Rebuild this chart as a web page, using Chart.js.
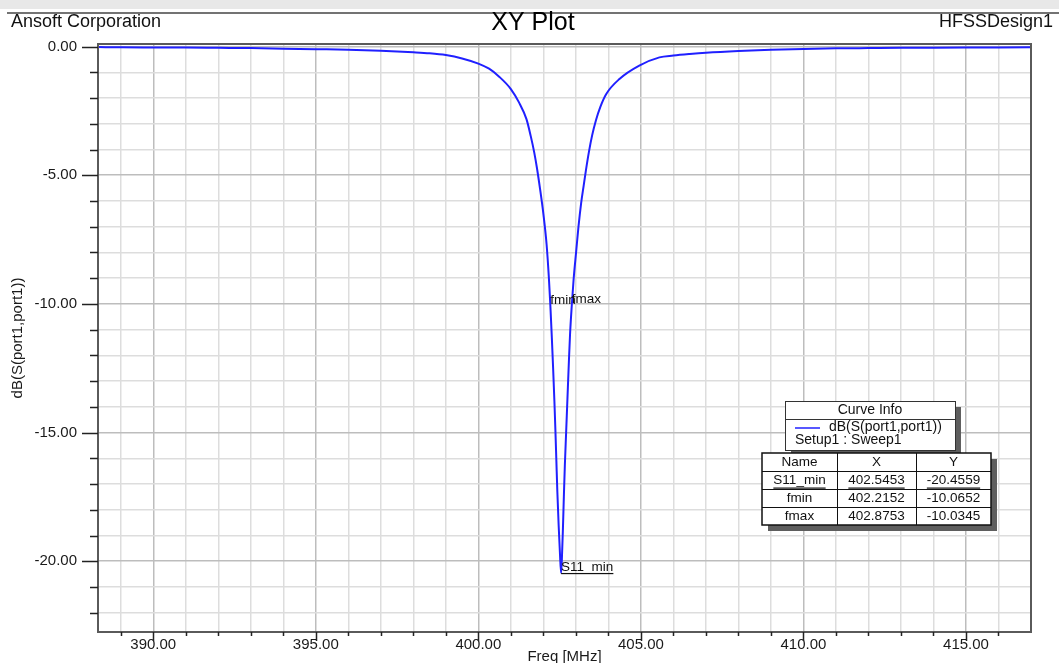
<!DOCTYPE html>
<html>
<head>
<meta charset="utf-8">
<title>XY Plot</title>
<script src="https://cdn.jsdelivr.net/npm/chart.js@4.4.1/dist/chart.umd.min.js"></script>
<style>
  html, body { margin: 0; padding: 0; background: #fff; }
  #wrap { width: 1059px; height: 663px; position: relative; }
</style>
</head>
<body>
<div id="wrap"><canvas id="xyPlot"></canvas></div>
<script>
// Sweep points, Setup1 : Sweep1  (MHz, dB)
const freq = [
    388.3, 389.0, 390.0, 391.0, 392.0, 393.0, 394.0, 395.0, 396.0, 397.0,
    398.0, 398.5, 399.0, 399.5, 400.0, 400.33, 400.64, 401.0, 401.25, 401.48,
    401.61, 401.72, 401.80, 401.90, 402.00, 402.10, 402.17, 402.2152, 402.26, 402.30,
    402.34, 402.37, 402.40, 402.43, 402.47, 402.51, 402.5453, 402.57, 402.60, 402.63,
    402.66, 402.70, 402.74, 402.78, 402.82, 402.8753, 402.93, 403.01, 403.08, 403.16,
    403.24, 403.31, 403.40, 403.50, 403.62, 403.75, 403.93, 404.34, 404.95, 405.57,
    406.0, 406.5, 407.0, 408.0, 409.0, 410.0, 411.0, 412.0, 413.0, 414.0,
    415.0, 416.0, 417.0
];
const s11 = [
    -0.02, -0.03, -0.035, -0.04, -0.05, -0.06, -0.08, -0.10, -0.12, -0.16,
    -0.22, -0.26, -0.33, -0.46, -0.66, -0.86, -1.17, -1.65, -2.17, -2.82,
    -3.47, -4.12, -4.70, -5.55, -6.50, -7.70, -9.0, -10.0652, -11.3, -12.5,
    -13.8, -14.9, -16.1, -17.3, -18.6, -19.7, -20.4559, -19.9, -18.8, -17.5,
    -16.3, -15.0, -13.7, -12.4, -11.2, -10.0345, -9.05, -7.95, -7.00, -6.10,
    -5.40, -4.80, -4.10, -3.45, -2.85, -2.35, -1.85, -1.26, -0.74, -0.42,
    -0.35, -0.29, -0.24, -0.17, -0.12, -0.09, -0.07, -0.06, -0.05, -0.045,
    -0.04, -0.035, -0.03
];

// markers on the trace
const markerNames = ['S11_min', 'fmin', 'fmax'];
const markerX = [402.5453, 402.2152, 402.8753];
const markerY = [-20.4559, -10.0652, -10.0345];

// ticks that carry a label
const xLabelTicks = [390, 395, 400, 405, 410, 415];
const yLabelTicks = [0, -5, -10, -15, -20];

const X_MIN = 388.3, X_MAX = 417.0;
const Y_MIN = -22.75, Y_MAX = 0.1;

const FONT = '"Liberation Sans", Arial, sans-serif';
const TRACE = '#2020ff';

// one grid line per unit
function unitTicks(min, max) {
    const out = [];
    for (let v = Math.ceil(min); v <= Math.floor(max); v++) out.push({ value: v });
    return out;
}

function isMajor(v) {
    return Math.round(v) % 5 === 0;
}

function gridColor(ctx) {
    if (!ctx.tick) return '#dcdcdc';
    return isMajor(ctx.tick.value) ? '#bdbdbd' : '#dddddd';
}

function shadowBox(ctx, x, y, w, h) {
    ctx.fillStyle = '#5e5e5e';
    ctx.fillRect(x + 6, y + 6, w, h);
    ctx.fillStyle = '#ffffff';
    ctx.fillRect(x, y, w, h);
}

const hfssDecor = {
    id: 'hfssDecor',
    beforeDraw(chart) {
        const ctx = chart.ctx;
        ctx.save();
        ctx.fillStyle = '#ffffff';
        ctx.fillRect(0, 0, chart.width, chart.height);
        // window strip at the top
        ctx.fillStyle = '#e8e8e8';
        ctx.fillRect(0, 0, chart.width, 9);
        ctx.fillStyle = '#737373';
        ctx.fillRect(7, 12, chart.width - 7, 2);

        // header line: company, plot name, design
        ctx.fillStyle = '#111';
        ctx.textBaseline = 'middle';
        ctx.font = '18px ' + FONT;
        ctx.textAlign = 'left';
        ctx.fillText('Ansoft Corporation', 11, 22);
        ctx.textAlign = 'right';
        ctx.fillText('HFSSDesign1', 1053, 22);
        ctx.fillStyle = '#000';
        ctx.font = '25px ' + FONT;
        ctx.textAlign = 'center';
        ctx.fillText('XY Plot', 533, 23);
        ctx.restore();
    },
    afterDraw(chart) {
        const ctx = chart.ctx;
        const area = chart.chartArea;
        const xs = chart.scales.x;
        const ys = chart.scales.y;
        ctx.save();

        // plot frame
        ctx.strokeStyle = '#5a5a5a';
        ctx.lineWidth = 2;
        ctx.strokeRect(area.left, area.top, area.right - area.left, area.bottom - area.top);

        // tick marks, long on the labelled values
        ctx.strokeStyle = '#222';
        ctx.lineWidth = 1.5;
        ctx.beginPath();
        xs.ticks.forEach(t => {
            const px = Math.round(xs.getPixelForValue(t.value)) + 0.5;
            if (px <= area.left + 1 || px >= area.right - 1) return;
            const len = isMajor(t.value) ? 9 : 4;
            ctx.moveTo(px, area.bottom);
            ctx.lineTo(px, area.bottom + len);
        });
        ys.ticks.forEach(t => {
            const py = Math.round(ys.getPixelForValue(t.value)) + 0.5;
            const len = isMajor(t.value) ? 16 : 8;
            ctx.moveTo(area.left - len, py);
            ctx.lineTo(area.left, py);
        });
        ctx.stroke();

        // marker labels
        ctx.font = '13.5px ' + FONT;
        ctx.fillStyle = '#111';
        ctx.textAlign = 'left';
        ctx.textBaseline = 'alphabetic';
        markerNames.forEach((name, i) => {
            const px = xs.getPixelForValue(markerX[i]);
            const py = ys.getPixelForValue(markerY[i]);
            ctx.fillText(name, px, py - 2);
            if (i === 0) {
                const w = ctx.measureText(name).width;
                ctx.fillRect(px, py, w, 1.2);
            }
        });

        // Curve Info box
        const bx = 785, by = 401, bw = 170, bh = 49;
        shadowBox(ctx, bx, by, bw, bh);
        ctx.strokeStyle = '#333';
        ctx.lineWidth = 1;
        ctx.strokeRect(bx + 0.5, by + 0.5, bw, bh);
        ctx.beginPath();
        ctx.moveTo(bx, by + 18.5);
        ctx.lineTo(bx + bw, by + 18.5);
        ctx.stroke();
        ctx.font = '14px ' + FONT;
        ctx.fillStyle = '#111';
        ctx.textBaseline = 'middle';
        ctx.textAlign = 'center';
        ctx.fillText('Curve Info', bx + bw / 2, by + 9);
        ctx.strokeStyle = TRACE;
        ctx.lineWidth = 1.5;
        ctx.beginPath();
        ctx.moveTo(bx + 10, by + 27);
        ctx.lineTo(bx + 35, by + 27);
        ctx.stroke();
        ctx.textAlign = 'left';
        ctx.fillText(chart.data.datasets[0].label, bx + 44, by + 26.5);
        ctx.fillText('Setup1 : Sweep1', bx + 10, by + 39.5);

        // marker table
        const tx = 762, ty = 453, rowH = 18;
        const colW = [75, 79, 75];
        const tw = colW[0] + colW[1] + colW[2];
        const th = rowH * (markerNames.length + 1);
        shadowBox(ctx, tx, ty, tw, th);
        ctx.strokeStyle = '#111';
        ctx.lineWidth = 1;
        ctx.beginPath();
        for (let r = 1; r <= markerNames.length; r++) {
            ctx.moveTo(tx, ty + r * rowH + 0.5);
            ctx.lineTo(tx + tw, ty + r * rowH + 0.5);
        }
        ctx.moveTo(tx + colW[0] + 0.5, ty);
        ctx.lineTo(tx + colW[0] + 0.5, ty + th);
        ctx.moveTo(tx + colW[0] + colW[1] + 0.5, ty);
        ctx.lineTo(tx + colW[0] + colW[1] + 0.5, ty + th);
        ctx.stroke();
        ctx.lineWidth = 1.5;
        ctx.strokeRect(tx, ty, tw, th);

        const colC = [tx + colW[0] / 2, tx + colW[0] + colW[1] / 2, tx + colW[0] + colW[1] + colW[2] / 2];
        ctx.font = '13.5px ' + FONT;
        ctx.fillStyle = '#111';
        ctx.textAlign = 'center';
        ctx.textBaseline = 'middle';
        ['Name', 'X', 'Y'].forEach((h, c) => ctx.fillText(h, colC[c], ty + rowH / 2 + 0.5));
        markerNames.forEach((name, i) => {
            const cy = ty + (i + 1) * rowH + rowH / 2 + 0.5;
            const cells = [name, markerX[i].toFixed(4), markerY[i].toFixed(4)];
            cells.forEach((txt, c) => {
                ctx.fillText(txt, colC[c], cy);
                if (i === 0) {
                    const w = ctx.measureText(txt).width;
                    ctx.fillRect(colC[c] - w / 2, cy + 7, w, 1.2);
                }
            });
        });

        ctx.restore();
    }
};

function renderPlot() {
    const points = freq.map((f, i) => ({ x: f, y: s11[i] }));
    const ctx = document.querySelector('#xyPlot').getContext('2d');

    new Chart(ctx, {
        type: 'line',
        data: {
            datasets: [{
                label: 'dB(S(port1,port1))',
                data: points,
                borderColor: TRACE,
                borderWidth: 2,
                pointRadius: 0,
                fill: false,
                cubicInterpolationMode: 'monotone'
            }]
        },
        options: {
            responsive: true,
            maintainAspectRatio: false,
            animation: false,
            layout: { padding: { top: 44, left: 0, right: 28, bottom: 0 } },
            scales: {
                x: {
                    type: 'linear',
                    min: X_MIN,
                    max: X_MAX,
                    afterBuildTicks: scale => { scale.ticks = unitTicks(X_MIN, X_MAX); },
                    afterFit: scale => { scale.height = 31; },
                    border: { display: false },
                    grid: { color: gridColor, lineWidth: 1.5, drawTicks: false },
                    ticks: {
                        autoSkip: false,
                        maxRotation: 0,
                        padding: 4,
                        color: '#1a1a1a',
                        font: { family: FONT, size: 15 },
                        callback: value => xLabelTicks.includes(value) ? value.toFixed(2) : ''
                    },
                    title: {
                        display: true,
                        text: 'Freq [MHz]',
                        color: '#1a1a1a',
                        font: { family: FONT, size: 15 },
                        padding: { top: 0, bottom: -3 }
                    }
                },
                y: {
                    type: 'linear',
                    min: Y_MIN,
                    max: Y_MAX,
                    afterBuildTicks: scale => { scale.ticks = unitTicks(Y_MIN, Y_MAX); },
                    afterFit: scale => { scale.width = 98; },
                    border: { display: false },
                    grid: { color: gridColor, lineWidth: 1.5, drawTicks: false },
                    ticks: {
                        autoSkip: false,
                        padding: 21,
                        color: '#1a1a1a',
                        font: { family: FONT, size: 15 },
                        callback: value => yLabelTicks.includes(value) ? value.toFixed(2) : ''
                    },
                    title: {
                        display: true,
                        text: 'dB(S(port1,port1))',
                        color: '#1a1a1a',
                        font: { family: FONT, size: 15 },
                        padding: { top: 9, bottom: 0 }
                    }
                }
            },
            plugins: {
                legend: { display: false },
                tooltip: { enabled: false },
                title: { display: false }
            }
        },
        plugins: [hfssDecor]
    });
}

document.addEventListener('DOMContentLoaded', renderPlot);
</script>
</body>
</html>
